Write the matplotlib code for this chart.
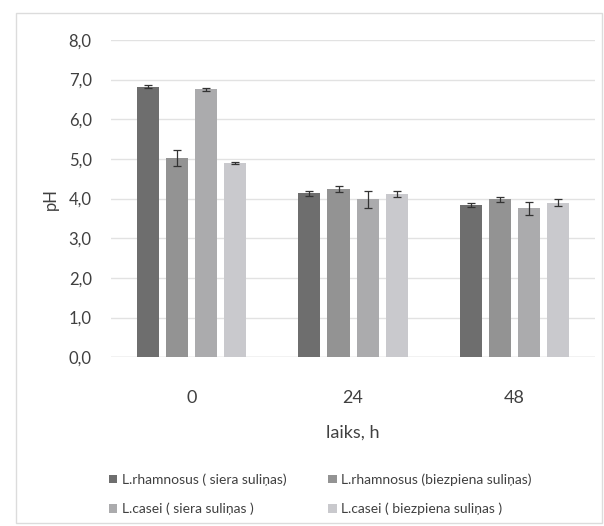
import numpy as np
import matplotlib
matplotlib.use("Agg")
import matplotlib.pyplot as plt
from matplotlib.patches import Rectangle
from matplotlib.ticker import FuncFormatter

plt.rcParams['font.family'] = ['Lato', 'DejaVu Sans']

times = ['0', '24', '48']
series = ['L.rhamnosus ( siera suliņas)', 'L.rhamnosus (biezpiena suliņas)',
          'L.casei ( siera suliņas )', 'L.casei ( biezpiena suliņas )']
rham_siera = [6.82, 4.13, 3.83]
rham_biezp = [5.02, 4.24, 3.98]
casei_siera = [6.76, 3.98, 3.75]
casei_biezp = [4.90, 4.11, 3.90]
err_rham_siera = [0.04, 0.07, 0.05]
err_rham_biezp = [0.20, 0.07, 0.07]
err_casei_siera = [0.04, 0.22, 0.16]
err_casei_biezp = [0.03, 0.08, 0.10]

values = [rham_siera, rham_biezp, casei_siera, casei_biezp]
errors = [err_rham_siera, err_rham_biezp, err_casei_siera, err_casei_biezp]
colors = ['#6e6e6e', '#939393', '#ababad', '#c9c9cd']

fig = plt.figure(figsize=(6.04, 5.26), dpi=100)
fig.patch.set_facecolor('white')
fig.patches.append(Rectangle((0.027, 0.005), 0.97, 0.97, transform=fig.transFigure,
                             fill=False, edgecolor='#dcdcdc', linewidth=1))

ax = fig.add_axes([0.184, 0.321, 0.801, 0.603])
x = np.arange(len(times))
step = 29 / 161
width = 22 / 161
handles = []
for i, (v, e, c, lab) in enumerate(zip(values, errors, colors, series)):
    pos = x + (i - 1.5) * step
    h = ax.bar(pos, v, width=width, color=c, label=lab, zorder=2)
    handles.append(h)
    ax.errorbar(pos, v, yerr=e, fmt='none', ecolor='#333333', elinewidth=0.9,
                capsize=3, capthick=0.9, zorder=3)

ax.set_xlim(-0.5, 2.5)
ax.set_ylim(0, 8)
ax.set_yticks(np.arange(0, 9, 1))
ax.yaxis.set_major_formatter(FuncFormatter(lambda v, p: f"{v:.1f}".replace('.', ',')))
ax.set_xticks(x)
ax.set_xticklabels(times)
ax.grid(axis='y', color='#e2e2e2', linewidth=1, zorder=0)
for s in ax.spines.values():
    s.set_visible(False)
ax.axhline(0, color='#d9d9d9', linewidth=1, zorder=1)
ax.tick_params(axis='both', length=0, colors='#404040', labelsize=12)
ax.tick_params(axis='y', pad=14)
ax.tick_params(axis='x', pad=24, labelsize=13)
ax.set_xlabel('laiks, h', fontsize=13, color='#404040', labelpad=13)
ax.set_ylabel('pH', fontsize=12, color='#404040', labelpad=7)

# row-wise order like the original legend
order = [0, 2, 1, 3]
ax.legend([handles[k] for k in order], [series[k] for k in order],
          loc='center left', bbox_to_anchor=(-0.005, -0.432), ncol=2, frameon=False,
          fontsize=10, labelcolor='#404040', handlelength=0.6, handleheight=0.6,
          handletextpad=0.35, columnspacing=3.0, labelspacing=1.2, borderaxespad=0,
          borderpad=0)

fig.savefig('out.png', dpi=100)
